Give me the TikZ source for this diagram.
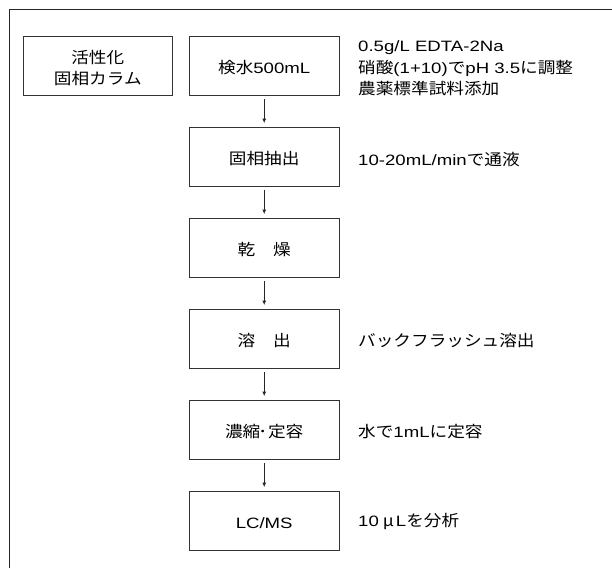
\documentclass[tikz,border=0pt]{standalone}
\usepackage{fontspec}
\setmainfont{Liberation Sans}[FakeStretch=1.24]
\newfontfamily\jpfont{Noto Sans CJK JP}[Scale=1.05,FakeStretch=1.12]
\newcommand\J[1]{{\jpfont #1}}
\usetikzlibrary{arrows.meta}
\tikzset{
  stepbox/.style={draw=black!80, line width=0.9pt, minimum width=149.5pt, minimum height=59.3pt,
    inner sep=0pt},
  boxtext/.style={label={[inner sep=0pt, align=center, yshift=-2.3pt, font=\fontsize{15}{21}\selectfont]center:{#1}}},
  note/.style={anchor=west, inner sep=0pt, align=left, font=\fontsize{15}{21.5}\selectfont},
  flow/.style={draw=black!85, line width=0.8pt, -{Latex[length=4.5pt,width=4pt]}, shorten <=3.5pt, shorten >=3.5pt},
  frame/.style={draw=black!85, line width=1pt}
}
\begin{document}
\begin{tikzpicture}[x=1pt,y=-1pt]
\useasboundingbox (0,0) rectangle (612,568);
\coordinate (fb) at (9.3,568);
\coordinate (fc) at (9.3,9.3);
\coordinate (fr) at (612,9.3);
\draw[frame] (fb) -- (fc) -- (fr);

\node[stepbox, boxtext={\J{活性化}\\\J{固相カラム}}] (col) at (97.8,65.7) {};
\node[stepbox, boxtext={\J{検水}500mL}] (s1) at (264.2,65.7) {};
\node[stepbox, boxtext={\J{固相抽出}}] (s2) at (264.2,156.7) {};
\node[stepbox, boxtext={\J{乾　燥}}] (s3) at (264.2,247.7) {};
\node[stepbox, boxtext={\J{溶　出}}] (s4) at (264.2,338.7) {};
\node[stepbox, boxtext={\J{濃縮\kern-2pt･\kern1pt定容}}] (s5) at (264.2,429.7) {};
\node[stepbox, boxtext={LC/MS}] (s6) at (264.2,520.7) {};

\node[note] (n1) at (358,68.5) {0.5g/L EDTA-2Na\\\J{硝酸}(1+10)\J{で}pH 3.5\J{に調整}\\\J{農薬標準試料添加}};
\node[note] (n2) at (358,159.5) {10-20mL/min\J{で通液}};
\node[note] (n4) at (358,340.5) {\J{バックフラッシュ溶出}};
\node[note] (n5) at (358,431.5) {\J{水で}1mL\J{に定容}};
\node[note] (n6) at (358,521) {10\kern4pt\J{μ}\kern2pt L\J{を分析}};

\draw[flow] (s1) -- (s2);
\draw[flow] (s2) -- (s3);
\draw[flow] (s3) -- (s4);
\draw[flow] (s4) -- (s5);
\draw[flow] (s5) -- (s6);
\end{tikzpicture}
\end{document}
